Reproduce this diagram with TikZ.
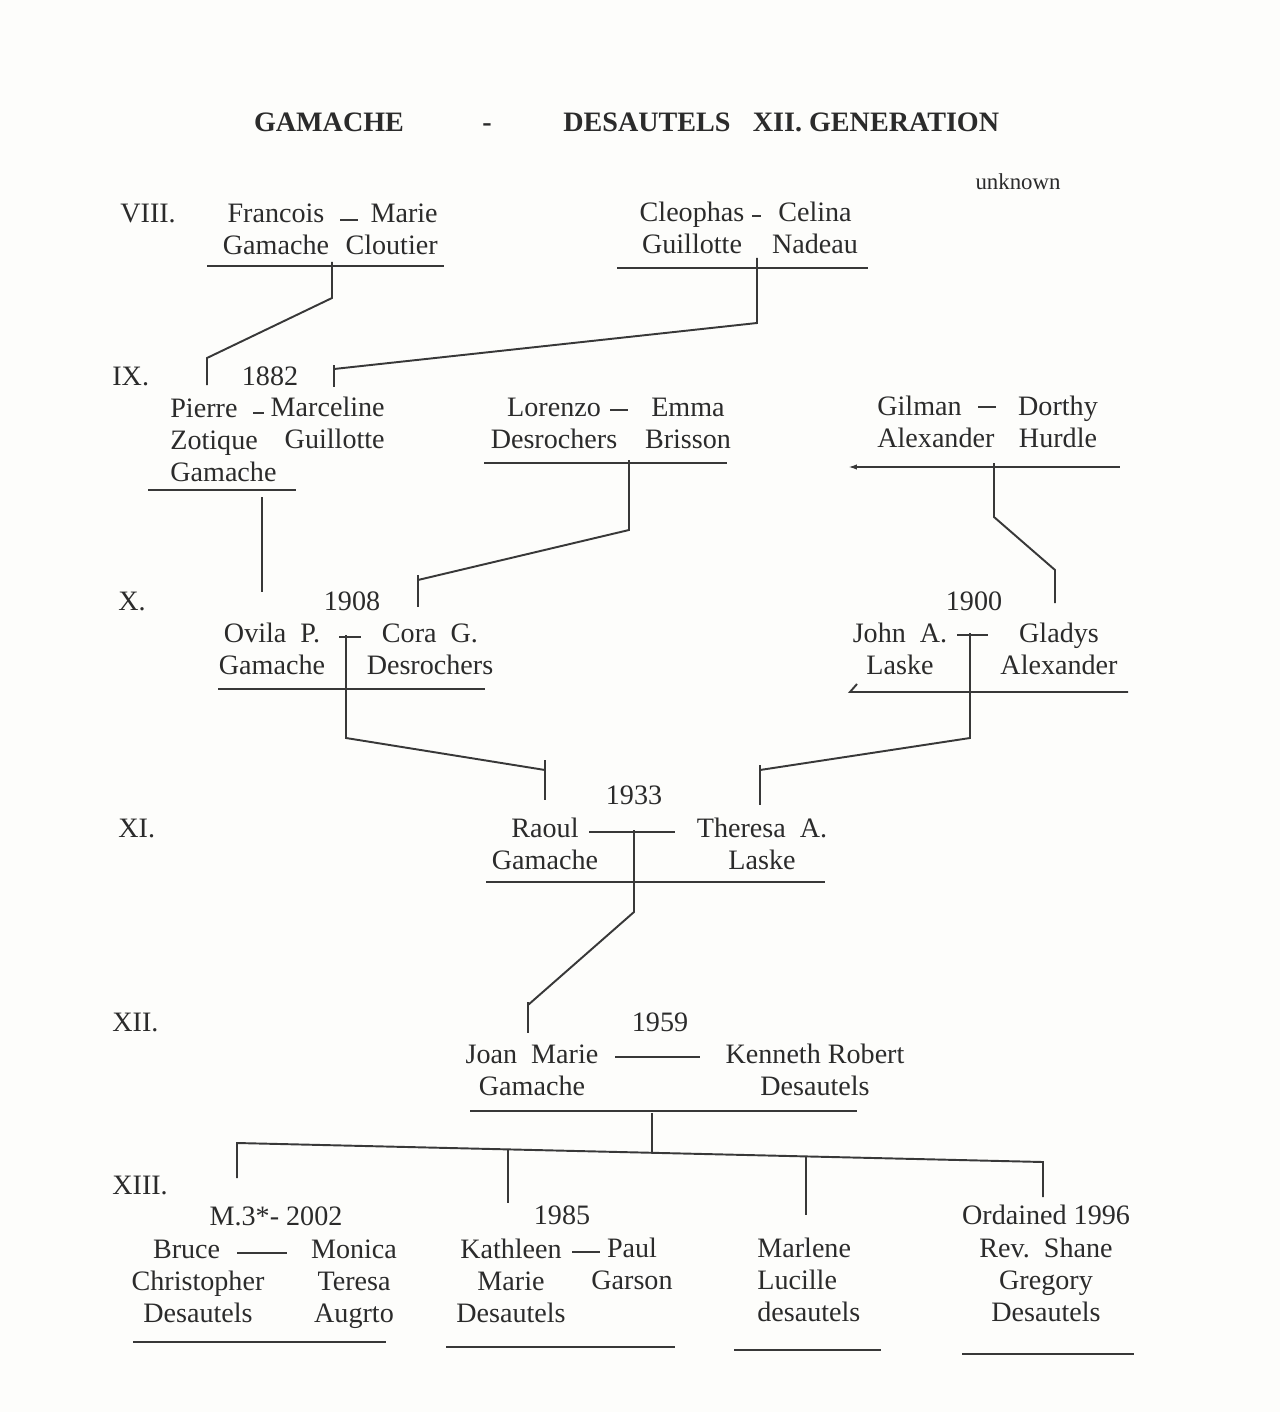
\documentclass[tikz,border=0pt]{standalone}
\usepackage{fontspec}
\setmainfont{Liberation Serif}
\usetikzlibrary{arrows.meta}
\definecolor{cInk}{HTML}{2B2B2B}
\definecolor{cLine}{HTML}{383838}
\definecolor{cPaper}{HTML}{FDFDFB}
\newcommand{\namefont}{\fontsize{16}{18.4}\selectfont}

\begin{document}
\begin{tikzpicture}[
  x=0.02cm, y=-0.02cm,
  nm/.style={font=\namefont, text=cInk, inner sep=0pt, align=center, anchor=base, yshift=-1.1pt},
  gen/.style={font=\namefont, text=cInk, inner sep=0pt, anchor=base west, yshift=-1.1pt},
  ttl/.style={font=\fontsize{16}{18}\selectfont\bfseries, text=cInk, inner sep=0pt, anchor=base, yshift=-1.5pt},
  ln/.style={draw=cLine, line width=1.1pt},
  ul/.style={draw=cLine, line width=1.1pt},
]
\fill[cPaper] (0,0) rectangle (1280,1412);
\useasboundingbox (0,0) rectangle (1280,1412);

% ---- title ----
\node[ttl] (tgam) at (329,129) {GAMACHE};
\node[ttl] (tdash) at (487,129) {-};
\node[ttl] (tdes) at (647,129) {DESAUTELS};
\node[ttl] (tgen) at (876,129) {XII. GENERATION};
\node[font=\fontsize{13}{15}\selectfont, text=cInk, inner sep=0pt, anchor=base] (unk) at (1018,190) {unknown};

% ---- generation numbers ----
\node[gen] (g8) at (120,221) {VIII.};
\node[gen] (g9) at (112,384) {IX.};
\node[gen] (g10) at (118,609) {X.};
\node[gen] (g11) at (118,836) {XI.};
\node[gen] (g12) at (112,1030) {XII.};
\node[gen] (g13) at (112,1193) {XIII.};

% ---- VIII ----
\node[nm] (fran) at (276,253) {Francois\\Gamache};
\node[nm, align=right, anchor=base east] (marie) at (438,253) {Marie\\Cloutier};
\draw[ln] (fran.base) ++(64,-35) -- ++(18,0);
\draw[ul] (207,266) -- (444,266);

\node[nm] (cleo) at (692,252) {Cleophas\\Guillotte};
\node[nm] (celina) at (815,252) {Celina\\Nadeau};
\draw[ln] (cleo.base) ++(60,-38) -- ++(9,0);
\draw[ul] (617,268) -- (868,268);

% ---- IX ----
\node[nm] (y1882) at (270,384) {1882};
\node[nm, align=left, anchor=base west] (pierre) at (170,480) {Pierre\\Zotique\\Gamache};
\node[nm, align=right, anchor=base east] (marc) at (385,447) {Marceline\\Guillotte};
\draw[ln] (pierre.base west) ++(83,-69) -- ++(11,0);
\draw[ul] (148,490) -- (296,490);

\node[nm] (lorenzo) at (554,447) {Lorenzo\\Desrochers};
\node[nm] (emma) at (688,447) {Emma\\Brisson};
\draw[ln] (lorenzo.base) ++(56,-39) -- ++(18,0);
\draw[ul] (484,463) -- (727,463);

\node[nm, align=left, anchor=base west] (gilman) at (877,446) {Gilman\\Alexander};
\node[nm] (dorthy) at (1058,446) {Dorthy\\Hurdle};
\draw[ln] (gilman.base west) ++(101,-41) -- ++(18,0);
\draw[ul, {Latex[length=5pt,width=3pt]}-] (848,467) -- (1120,467);

% ---- X ----
\node[nm] (y1908) at (352,609) {1908};
\node[nm] (ovila) at (272,673) {Ovila~~P.\\Gamache};
\node[nm] (cora) at (430,673) {Cora~~G.\\Desrochers};
\draw[ln] (ovila.base) ++(67,-38) -- ++(22,0);
\draw[ul] (218,689) -- (485,689);

\node[nm] (y1900) at (974,609) {1900};
\node[nm] (john) at (900,673) {John~~A.\\Laske};
\node[nm] (gladys) at (1059,673) {Gladys\\Alexander};
\draw[ln] (john.base) ++(57,-40) -- ++(31,0);
\draw[ul] (857,684) -- (850,692) -- (1128,692);

% ---- XI ----
\node[nm] (y1933) at (634,803) {1933};
\node[nm] (raoul) at (545,868) {Raoul\\Gamache};
\node[nm] (theresa) at (762,868) {Theresa~~A.\\Laske};
\draw[ln] (raoul.base) ++(44,-38) -- ++(86,0);
\draw[ul] (486,882) -- (825,882);

% ---- XII ----
\node[nm] (y1959) at (660,1030) {1959};
\node[nm] (joan) at (532,1094) {Joan~~Marie\\Gamache};
\node[nm] (kenneth) at (815,1094) {Kenneth Robert\\Desautels};
\draw[ln] (joan.base) ++(83,-39) -- ++(85,0);
\draw[ul] (470,1111) -- (857,1111);

% ---- XIII ----
\node[nm] (m2002) at (276,1224) {M.3*- 2002};
\node[nm] (bruce) at (198,1321) {Bruce\hspace*{13pt}\\Christopher\\Desautels};
\node[nm] (monica) at (354,1321) {Monica\\Teresa\\Augrto};
\draw[ln] (bruce.base) ++(39,-70) -- ++(50,0);
\draw[ul] (133,1342) -- (386,1342);

\node[nm] (y1985) at (562,1223) {1985};
\node[nm] (kath) at (511,1321) {Kathleen\\Marie\\Desautels};
\node[nm] (paul) at (632,1288) {Paul\\Garson};
\draw[ln] (kath.base) ++(61,-71) -- ++(28,0);
\draw[ul] (446,1347) -- (675,1347);

\node[nm, align=left, anchor=base west] (marlene) at (757,1320) {Marlene\\Lucille\\desautels};
\draw[ul] (734,1350) -- (881,1350);

\node[nm] (shane) at (1046,1320) {Ordained 1996\\Rev.~~Shane\\Gregory\\Desautels};
\draw[ul] (962,1354) -- (1134,1354);

% ---- descent lines ----
\coordinate (p8a) at (332,262);  \coordinate (c9a) at (207,385);
\coordinate (p8b) at (757,258);  \coordinate (c9b) at (334,365);
\coordinate (p9a) at (262,497);  \coordinate (c10a) at (262,592);
\coordinate (p9b) at (629,460);  \coordinate (c10b) at (418,575);
\coordinate (p9c) at (994,463);  \coordinate (c10c) at (1055,603);
\coordinate (p10a) at (346,635); \coordinate (c11a) at (545,760);
\coordinate (p10b) at (970,633); \coordinate (c11b) at (760,765);
\coordinate (p11) at (634,830);  \coordinate (c12) at (528,1002);
\coordinate (p12) at (652,1113);

\draw[ln] (p8a) -- ++(0,36) -- (207,358) -- (c9a);
\draw[ln] (p8b) -- ++(0,65) -- (334,369);
\draw[ln] (c9b) -- ++(0,22);
\draw[ln] (p9a) -- (c10a);
\draw[ln] (p9b) -- ++(0,70) -- (418,580);
\draw[ln] (c10b) -- ++(0,32);
\draw[ln] (p9c) -- ++(0,54) -- (1055,570) -- (c10c);
\draw[ln] (p10a) -- ++(0,103) -- (545,770);
\draw[ln] (c11a) -- ++(0,40);
\draw[ln] (p10b) -- ++(0,105) -- (760,770);
\draw[ln] (c11b) -- ++(0,40);
\draw[ln] (p11) -- ++(0,82) -- (528,1005);
\draw[ln] (c12) -- ++(0,31);

% ---- children of XII ----
\coordinate (k1) at (237,1143);
\coordinate (k2) at (508,1150);
\coordinate (k3) at (806,1157);
\coordinate (k4) at (1043,1162);
\draw[ln] (p12) -- (652,1152);
\draw[ln] (237,1178) -- (k1) -- (k4) -- ++(0,35);
\draw[ln] (k2) -- ++(0,53);
\draw[ln] (k3) -- ++(0,58);

\end{tikzpicture}
\end{document}
